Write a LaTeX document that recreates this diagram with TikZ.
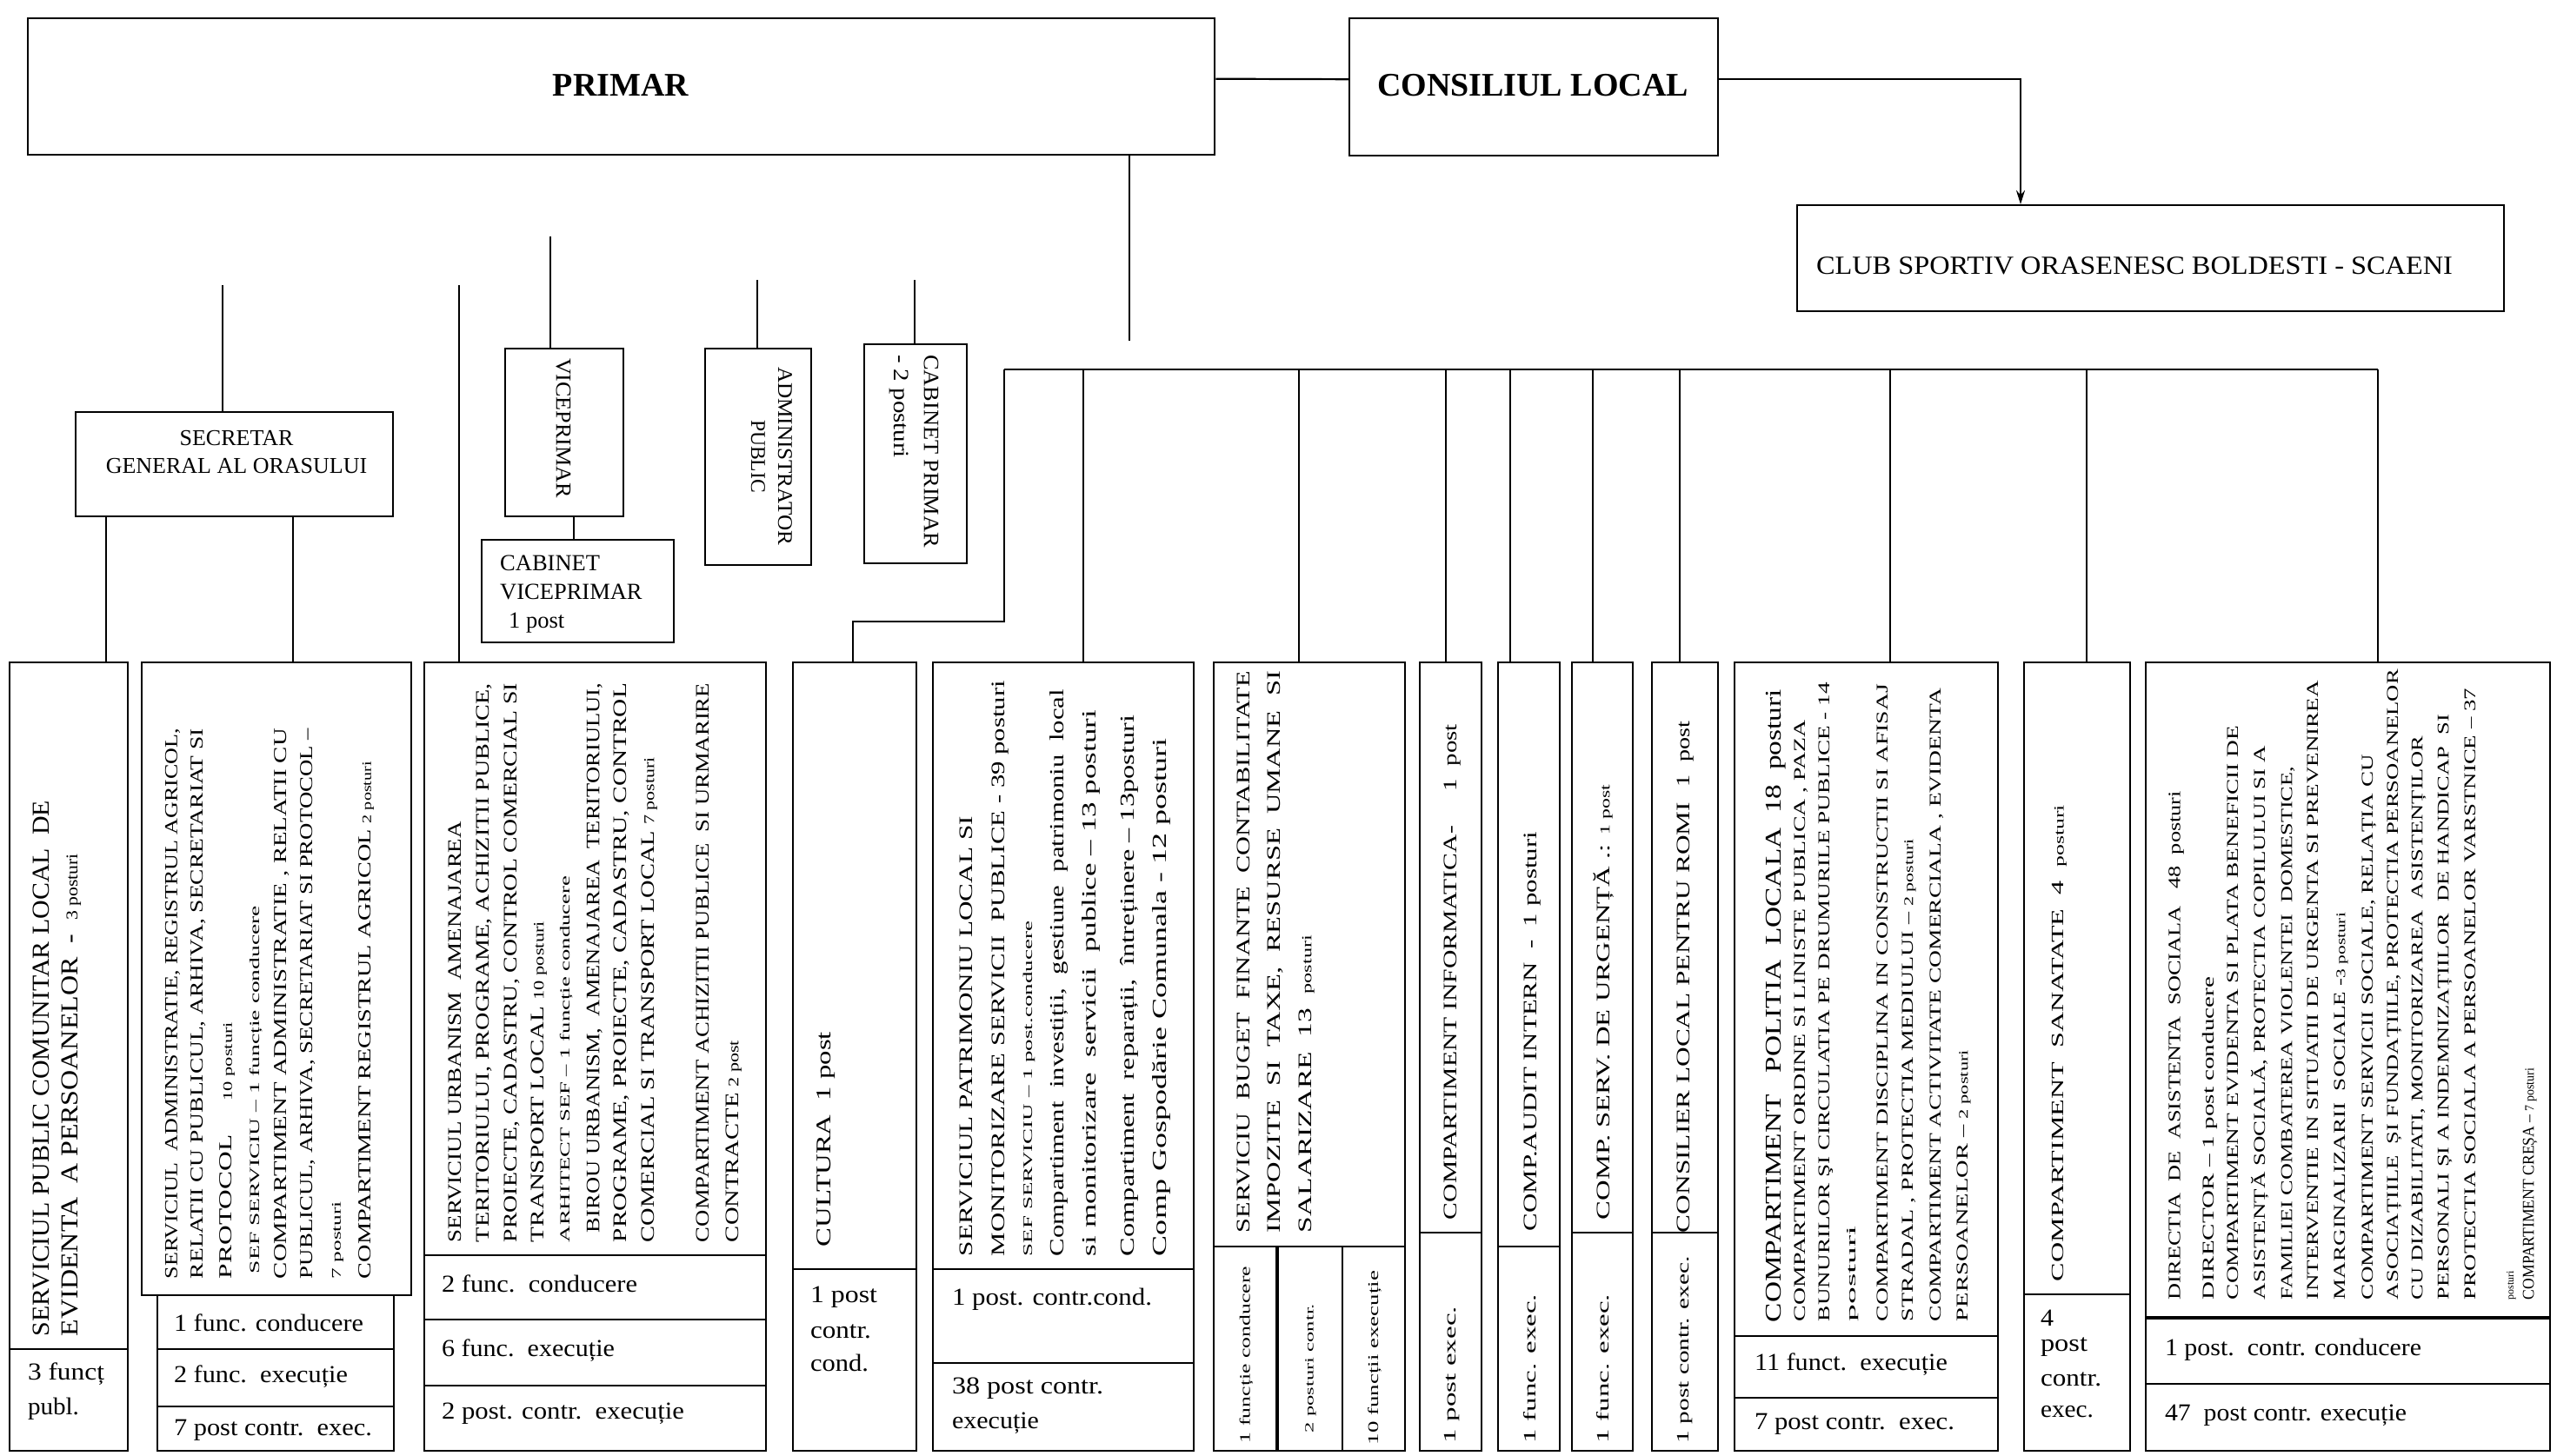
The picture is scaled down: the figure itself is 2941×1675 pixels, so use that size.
\documentclass[tikz,border=0pt]{standalone}
\usepackage{fontspec}
\setmainfont{Liberation Serif}
\usepackage{graphicx}
\usetikzlibrary{arrows.meta}
\newcounter{tx}
\newlength\mylen
% rotated text reading upwards: x-centre, y-start (bottom), y-end (top), size, text
\newcommand\VL[5]{\stepcounter{tx}\node[vtext] (t\arabic{tx}) at ({#1+0.33*#4},#2) {\pgfmathsetlength\mylen{#2-#3}\resizebox{\mylen}{\height}{\fontsize{#4}{#4}\selectfont #5}};}
% rotated text reading downwards: x-centre, y-start (top), y-end (bottom), size, text
\newcommand\VD[5]{\stepcounter{tx}\node[vdown] (t\arabic{tx}) at ({#1-0.33*#4},#2) {\pgfmathsetlength\mylen{#3-#2}\resizebox{\mylen}{\height}{\fontsize{#4}{#4}\selectfont #5}};}
% horizontal label: x-left, y-centre, length, size, text
\newcommand\HL[5]{\stepcounter{tx}\node[htext] (t\arabic{tx}) at (#1,#2) {\resizebox{#3pt}{\height}{\fontsize{#4}{#4}\selectfont #5}};}
% box: name, x1, y1, x2, y2
\newcommand\bx[5]{\node[box, anchor=north west, minimum width={#4-#2}, minimum height={#5-#3}] (#1) at (#2,#3) {};}
\tikzset{
  box/.style={draw, line width=2.4pt, inner sep=0pt},
  conn/.style={line width=2.2pt},
  divl/.style={line width=2.2pt},
  vtext/.style={rotate=90, anchor=base west, inner sep=0pt, outer sep=0pt},
  vdown/.style={rotate=-90, anchor=base west, inner sep=0pt, outer sep=0pt},
  htext/.style={anchor=west, inner sep=0pt, outer sep=0pt},
  title/.style={anchor=base, inner sep=0pt, font=\fontsize{38}{38}\selectfont\bfseries},
}
\begin{document}
\begin{tikzpicture}[x=1pt,y=-1pt]
\fill[white] (0,0) rectangle (2941,1675);
\useasboundingbox (0,0) rectangle (2941,1675);

% ---------- top boxes ----------
\bx{primar}{31}{20}{1396}{177}
\bx{consiliu}{1551}{20}{1975}{178}
\bx{club}{2066}{235}{2879}{357}
\node[title] (tprimar) at (714,111) {PRIMAR};
\node[title] (tcons) at (1763,111) {CONSILIUL LOCAL};
\node[anchor=base, inner sep=0pt, font=\fontsize{30}{30}\selectfont] (tclub) at (2455,315) {\resizebox{732pt}{\height}{CLUB SPORTIV ORASENESC BOLDESTI - SCAENI}};

\draw[conn] ([yshift=9pt]primar.east) -- ([yshift=9pt]consiliu.west);
\coordinate (clubin) at (2324,235);
\draw[conn,-{Stealth[length=16pt,width=10pt]}] ([yshift=9pt]consiliu.east) -| (clubin);

\coordinate (pd) at (1299,392);
\draw[conn] (primar.south -| pd) -- (pd);

% ---------- middle ----------
\bx{secretar}{86}{473}{451}{593}
\node[anchor=base, inner sep=0pt, font=\fontsize{26}{26}\selectfont] (tsec1) at (272,512) {SECRETAR};
\node[anchor=base, inner sep=0pt, font=\fontsize{26}{26}\selectfont] (tsec2) at (272,544) {GENERAL AL ORASULUI};
\coordinate (s0) at (256,328);
\draw[conn] (s0) -- (s0 |- secretar.north);

\bx{vice}{580}{400}{716}{593}
\coordinate (v0) at (633,272);
\draw[conn] (v0) -- (v0 |- vice.north);
\VD{648}{412}{573}{25}{VICEPRIMAR}

\bx{cabvice}{553}{620}{774}{738}
\coordinate (v1) at (660,0);
\draw[conn] (vice.south -| v1) -- (cabvice.north -| v1);
\node[anchor=base west, inner sep=0pt, font=\fontsize{26.5}{26.5}\selectfont] (tcv1) at (575,656) {CABINET};
\node[anchor=base west, inner sep=0pt, font=\fontsize{26.5}{26.5}\selectfont] (tcv2) at (575,689) {VICEPRIMAR};
\node[anchor=base west, inner sep=0pt, font=\fontsize{26.5}{26.5}\selectfont] (tcv3) at (585,722) {1 post};

\bx{admin}{810}{400}{932}{649}
\coordinate (a0) at (871,322);
\draw[conn] (a0) -- (a0 |- admin.north);
\VD{903}{422}{627}{24}{ADMINISTRATOR}
\VD{872}{483}{567}{24}{PUBLIC}

\bx{cabp}{993}{395}{1111}{647}
\coordinate (c0) at (1052,322);
\draw[conn] (c0) -- (c0 |- cabp.north);
\VD{1071}{408}{630}{25}{CABINET PRIMAR}
\VD{1037}{408}{527}{25}{- 2 posturi}

% ---------- bottom boxes ----------
\bx{b1}{10}{761}{146}{1668}
\bx{b2}{162}{761}{472}{1489}
\bx{b2t}{180}{1489}{452}{1668}
\bx{b3}{487}{761}{880}{1668}
\bx{b4}{911}{761}{1053}{1668}
\bx{b5}{1072}{761}{1372}{1668}
\bx{b6}{1395}{761}{1615}{1668}
\bx{b7}{1632}{761}{1703}{1668}
\bx{b8}{1722}{761}{1793}{1668}
\bx{b9}{1807}{761}{1877}{1668}
\bx{b10}{1899}{761}{1975}{1668}
\bx{b11}{1994}{761}{2297}{1668}
\bx{b12}{2327}{761}{2449}{1668}
\bx{b13}{2467}{761}{2932}{1668}

% connectors to bottom boxes
\coordinate (sa) at (122,0);
\coordinate (sb) at (337,0);
\draw[conn] (secretar.south -| sa) -- (b1.north -| sa);
\draw[conn] (secretar.south -| sb) -- (b2.north -| sb);
\coordinate (u0) at (528,328);
\draw[conn] (u0) -- (u0 |- b3.north);

\coordinate (busL) at (1155,425);
\coordinate (busR) at (2735,425);
\draw[conn] (busL) -- (busR);
\coordinate (k1) at (1155,715);
\coordinate (k2) at (981,715);
\draw[conn] (busL) -- (k1) -- (k2) -- (k2 |- b4.north);
\foreach \x/\b in {1246/b5,1494/b6,1663/b7,1737/b8,1832/b9,1932/b10,2174/b11,2400/b12,2735/b13}{
  \coordinate (d\b) at (\x,425);
  \draw[conn] (d\b) -- (d\b |- \b.north);
}

% dividers
\draw[divl] (10,1552) -- (146,1552);
\draw[divl] (180,1552) -- (452,1552);
\draw[divl] (180,1618) -- (452,1618);
\draw[divl] (487,1444) -- (880,1444);
\draw[divl] (487,1518) -- (880,1518);
\draw[divl] (487,1594) -- (880,1594);
\draw[divl] (911,1460) -- (1053,1460);
\draw[divl] (1072,1460) -- (1372,1460);
\draw[divl] (1072,1568) -- (1372,1568);
\draw[divl] (1395,1434) -- (1615,1434);
\draw[line width=4pt] (1469,1434) -- (1469,1668);
\draw[divl] (1544,1434) -- (1544,1668);
\draw[divl] (1632,1418) -- (1703,1418);
\draw[divl] (1722,1434) -- (1793,1434);
\draw[divl] (1807,1418) -- (1877,1418);
\draw[divl] (1899,1418) -- (1975,1418);
\draw[divl] (1994,1537) -- (2297,1537);
\draw[divl] (1994,1608) -- (2297,1608);
\draw[divl] (2327,1489) -- (2449,1489);
\draw[line width=3.2pt] (2467,1516) -- (2932,1516);
\draw[divl] (2467,1592) -- (2932,1592);

% ---------- bottom labels ----------
\HL{32}{1581}{88}{28}{3 funcț}
\HL{32}{1621}{59}{28}{publ.}
\HL{200}{1522}{218}{28}{1 func. conducere}
\HL{200}{1584}{200}{28}{2 func.\ \ execuție}
\HL{200}{1645}{228}{28}{7 post contr.\ \ exec.}
\HL{508}{1477}{225}{28}{2 func.\ \ conducere}
\HL{508}{1554}{199}{28}{6 func.\ \ execuție}
\HL{508}{1626}{279}{28}{2 post. contr.\ \ execuție}
\HL{932}{1492}{77}{28}{1 post}
\HL{932}{1532}{70}{28}{contr.}
\HL{932}{1568}{67}{28}{cond.}
\HL{1095}{1495}{230}{28}{1 post. contr.cond.}
\HL{1095}{1597}{174}{28}{38 post contr.}
\HL{1095}{1637}{100}{28}{execuție}
\HL{2018}{1570}{222}{28}{11 funct.\ \ execuție}
\HL{2018}{1638}{230}{28}{7 post contr.\ \ exec.}
\HL{2347}{1516}{15}{28}{4}
\HL{2347}{1550}{54}{28}{post}
\HL{2347}{1587}{70}{28}{contr.}
\HL{2347}{1624}{61}{28}{exec.}
\HL{2490}{1553}{295}{28}{1 post.\ \ contr. conducere}
\HL{2490}{1628}{278}{28}{47\ \ post contr. execuție}

\VL{1432}{1660}{1457}{17}{1 funcție conducere}
\VL{1506}{1648}{1500}{14}{2 posturi contr.}
\VL{1580}{1662}{1462}{17}{10 funcții execuție}
\VL{1668}{1660}{1503}{20}{1 post exec.}
\VL{1760}{1660}{1489}{20}{1 func. exec.}
\VL{1844}{1660}{1489}{20}{1 func. exec.}
\VL{1936}{1660}{1445}{20}{1 post contr. exec.}

% ---------- box texts ----------
% b1
\VL{47}{1537}{921}{28}{SERVICIUL PUBLIC COMUNITAR LOCAL\ \ DE}
\VL{80}{1537}{982}{28}{EVIDENTA\ \ A PERSOANELOR\ \ -\ \ {\fontsize{19}{19}\selectfont 3 posturi}}
% b2
\VL{197}{1471}{838}{21}{SERVICIUL\ \ ADMINISTRATIE, REGISTRUL AGRICOL,}
\VL{227}{1471}{838}{21}{RELATII CU PUBLICUL, ARHIVA, SECRETARIAT SI}
\VL{260}{1471}{1176}{21}{PROTOCOL\quad\ {\fontsize{15}{15}\selectfont 10 posturi}}
\VL{293}{1465}{1042}{16}{SEF SERVICIU – 1 funcție conducere}
\VL{323}{1471}{838}{21}{COMPARTIMENT ADMINISTRATIE , RELATII CU}
\VL{353}{1471}{838}{21}{PUBLICUL, ARHIVA, SECRETARIAT SI PROTOCOL –}
\VL{387}{1471}{1382}{15}{7 posturi}
\VL{420}{1471}{876}{21}{COMPARTIMENT REGISTRUL AGRICOL {\fontsize{15}{15}\selectfont 2 posturi}}
% b3
\VL{523}{1429}{945}{22}{SERVICIUL URBANISM\ \ AMENAJAREA}
\VL{555}{1429}{786}{22}{TERITORIULUI, PROGRAME, ACHIZITII PUBLICE,}
\VL{587}{1429}{786}{22}{PROIECTE, CADASTRU, CONTROL COMERCIAL SI}
\VL{618}{1429}{1060}{22}{TRANSPORT LOCAL {\fontsize{17}{17}\selectfont 10 posturi}}
\VL{650}{1429}{1008}{16}{ARHITECT SEF – 1 funcție conducere}
\VL{682}{1418}{786}{22}{BIROU URBANISM,\ \ AMENAJAREA\ \ TERITORIULUI,}
\VL{713}{1429}{786}{22}{PROGRAME, PROIECTE, CADASTRU, CONTROL}
\VL{745}{1429}{871}{22}{COMERCIAL SI TRANSPORT LOCAL {\fontsize{17}{17}\selectfont 7 posturi}}
\VL{808}{1429}{786}{22}{COMPARTIMENT ACHIZITII PUBLICE\ \ SI URMARIRE}
\VL{842}{1429}{1197}{22}{CONTRACTE {\fontsize{17}{17}\selectfont 2 post}}
% b4
\VL{948}{1434}{1187}{24}{CULTURA\ \ 1 post}
% b5
\VL{1111}{1445}{939}{22}{SERVICIUL PATRIMONIU LOCAL SI}
\VL{1148}{1445}{783}{22}{MONITORIZARE SERVICII\ \ PUBLICE - 39 posturi}
\VL{1183}{1445}{1060}{15}{SEF SERVICIU – 1 post.conducere}
\VL{1216}{1445}{793}{23}{Compartiment\ \ investiții,\ \ gestiune\ \ patrimoniu\ \ local}
\VL{1253}{1445}{817}{23}{si monitorizare\ \ servicii\ \ publice – 13 posturi}
\VL{1297}{1445}{823}{23}{Compartiment\ \ reparații,\ \ întreținere – 13posturi}
\VL{1334}{1445}{850}{23}{Comp Gospodărie Comunala - 12 posturi}
% b6
\VL{1430}{1418}{772}{22}{SERVICIU\ \ BUGET\ \ FINANTE\ \ CONTABILITATE}
\VL{1465}{1418}{772}{22}{IMPOZITE\ \ SI\ \ TAXE,\ \ RESURSE\ \ UMANE\ \ SI}
\VL{1501}{1418}{1076}{22}{SALARIZARE\ \ 13\ \ {\fontsize{16}{16}\selectfont posturi}}
% b7
\VL{1668}{1403}{950}{22}{COMPARTIMENT INFORMATICA-}
\VL{1668}{910}{833}{22}{1\ \ post}
% b8
\VL{1760}{1416}{957}{22}{COMP.AUDIT INTERN\ \ -\ \ 1 posturi}
% b9
\VL{1844}{1403}{903}{22}{COMP. SERV.\ DE URGENȚĂ .: {\fontsize{16}{16}\selectfont 1 post}}
% b10
\VL{1936}{1418}{923}{22}{CONSILIER LOCAL PENTRU ROMI}
\VL{1936}{905}{830}{22}{1\ \ post}
% b11
\VL{2040}{1521}{793}{26}{COMPARTIMENT\ \ \ POLITIA\ \ LOCALA\ \ 18\ \ posturi}
\VL{2070}{1520}{828}{19}{COMPARTIMENT ORDINE SI LINISTE PUBLICA , PAZA}
\VL{2098}{1520}{785}{19}{BUNURILOR ŞI CIRCULATIA PE DRUMURILE PUBLICE - 14}
\VL{2130}{1520}{1410}{15}{posturi}
\VL{2165}{1520}{787}{19}{COMPARTIMENT DISCIPLINA IN CONSTRUCTII SI AFISAJ}
\VL{2194}{1520}{965}{19}{STRADAL , PROTECTIA MEDIULUI – {\fontsize{15}{15}\selectfont 2 posturi}}
\VL{2226}{1520}{792}{19}{COMPARTIMENT ACTIVITATE COMERCIALA , EVIDENTA}
\VL{2257}{1520}{1208}{19}{PERSOANELOR – {\fontsize{15}{15}\selectfont 2 posturi}}
% b12
\VL{2367}{1474}{926}{20}{COMPARTIMENT\ \ SANATATE\ \ 4\ \ {\fontsize{16}{16}\selectfont posturi}}
% b13
\VL{2501}{1495}{910}{20}{DIRECTIA\ \ DE\ \ ASISTENTA\ \ SOCIALA\ \ \ 48\ \ posturi}
\VL{2540}{1495}{1124}{19}{DIRECTOR – 1 post conducere}
\VL{2568}{1495}{835}{19}{COMPARTIMENT EVIDENTA SI PLATA BENEFICII DE}
\VL{2599}{1495}{858}{19}{ASISTENȚĂ SOCIALĂ, PROTECTIA COPILULUI SI A}
\VL{2630}{1495}{882}{19}{FAMILIEI COMBATEREA VIOLENTEI\ \ DOMESTICE,}
\VL{2660}{1495}{783}{19}{INTERVENTIE IN SITUATII DE URGENTA SI PREVENIREA}
\VL{2691}{1495}{1050}{19}{MARGINALIZARII\ \ SOCIALE -{\fontsize{15}{15}\selectfont 3 posturi}}
\VL{2723}{1495}{868}{19}{COMPARTIMENT SERVICII SOCIALE, RELAȚIA CU}
\VL{2752}{1495}{770}{19}{ASOCIAȚIILE\ \ ȘI FUNDAȚIILE, PROTECTIA PERSOANELOR}
\VL{2780}{1495}{847}{19}{CU DIZABILITATI, MONITORIZAREA\ \ ASISTENȚILOR}
\VL{2810}{1495}{822}{19}{PERSONALI ȘI A INDEMNIZAȚIILOR\ \ DE HANDICAP\ \ SI}
\VL{2841}{1495}{792}{19}{PROTECTIA SOCIALA A PERSOANELOR VARSTNICE – 37}
\VL{2887}{1495}{1462}{12}{posturi}
\VL{2908}{1495}{1229}{19}{COMPARTIMENT CREȘA – {\fontsize{15}{15}\selectfont 7 posturi}}
\end{tikzpicture}
\end{document}
